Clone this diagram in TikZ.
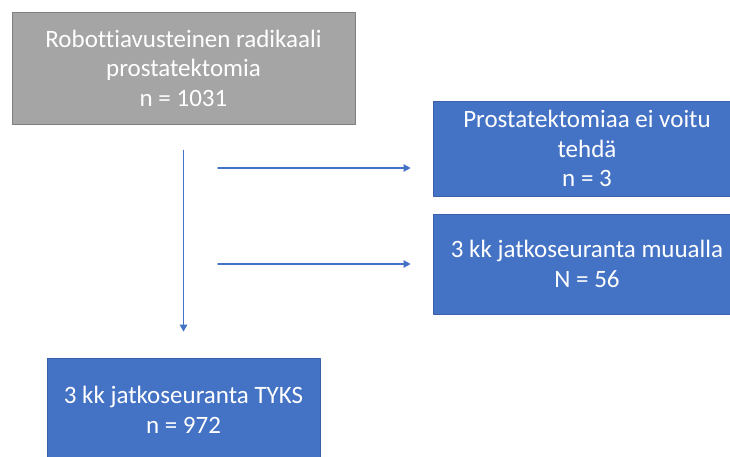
\documentclass[tikz,border=0pt]{standalone}
\usepackage{fontspec}
\setmainfont[Ligatures=NoCommon]{Carlito}
\usepackage{tikz}
\definecolor{boxblue}{HTML}{4472C4}
\definecolor{boxedge}{HTML}{3A62AA}
\definecolor{boxgray}{HTML}{A5A5A5}
\definecolor{grayedge}{HTML}{7F7F7F}
\usetikzlibrary{arrows.meta}

\tikzset{
  box/.style={rectangle, text=white, align=center, inner sep=0pt,
    font=\fontsize{25}{29.5}\selectfont, line width=0.8pt},
  bluebox/.style={box, fill=boxblue, draw=boxedge},
  graybox/.style={box, fill=boxgray, draw=grayedge},
  flow/.style={draw=boxblue, line width=1.4pt, -{Triangle[length=7pt,width=7.5pt]}}
}

\begin{document}
\begin{tikzpicture}[line cap=round,line join=round,x=1pt,y=1pt]
	\useasboundingbox (0,0) rectangle (730,-457);
	\clip (0,0) rectangle (730,-457);
	\node[graybox, minimum width=343pt, minimum height=112pt] (start) at (183.5,-68) {Robottiavusteinen radikaali\\prostatektomia\\n = 1031};
	\node[bluebox, minimum width=308pt, minimum height=95pt] (ei) at (587,-148.5) {Prostatektomiaa ei voitu\\tehdä\\n = 3};
	\node[bluebox, minimum width=308pt, minimum height=100pt] (muualla) at (587,-264) {3 kk jatkoseuranta muualla\\N = 56};
	\node[bluebox, minimum width=273pt, minimum height=104pt] (tyks) at (183.5,-410) {3 kk jatkoseuranta TYKS\\n = 972};
	\coordinate (a1) at (218,-168);
	\coordinate (a2) at (218,-264);
	\draw[flow, shorten <=26pt, shorten >=26pt] (start) -- (tyks);
	\draw[flow, shorten >=22pt] (a1) -- (a1 -| ei.west);
	\draw[flow, shorten >=22pt] (a2) -- (a2 -| muualla.west);
\end{tikzpicture}
\end{document}
